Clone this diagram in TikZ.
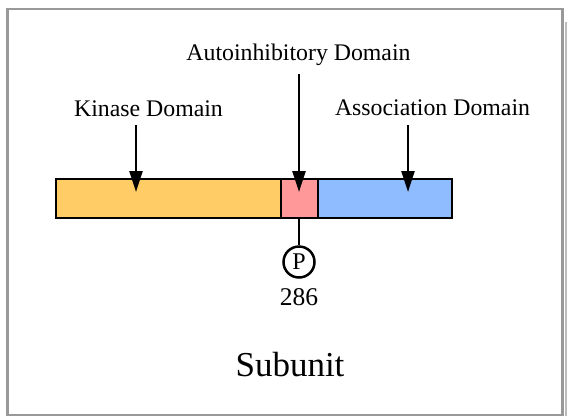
\documentclass[tikz,border=0pt]{standalone}
\usepackage{fontspec}
\setmainfont{Liberation Serif}
\usetikzlibrary{arrows.meta}
\definecolor{framegray}{HTML}{999999}
\definecolor{shadowgray}{HTML}{BBBBBB}
\definecolor{kinasecol}{HTML}{FFCC66}
\definecolor{autocol}{HTML}{FF9999}
\definecolor{assoccol}{HTML}{8FBCFF}
\begin{document}
\begin{tikzpicture}[x=1pt,y=-1pt,
  seg/.style={draw=black,line width=2.5pt,rectangle,minimum height=39pt,inner sep=0pt},
  lbl/.style={font=\fontsize{23.8}{28}\selectfont,inner sep=0pt,anchor=base},
  arr/.style={line width=2.5pt,-{Triangle[length=21pt,width=13pt]}},
  conn/.style={line width=2.5pt}]
\useasboundingbox (0,0) rectangle (567,418);
% shadow and frame
\fill[shadowgray] (564.5,22) rectangle (567,416);
\draw[framegray,line width=2.5pt] (7.5,9) rectangle (562.5,415);
% bar
\node[seg,fill=kinasecol,minimum width=225pt] (kin) at (168.5,198.5) {};
\node[seg,fill=assoccol,minimum width=134pt] (asc) at (385,198.5) {};
\node[seg,fill=autocol,minimum width=37pt] (aut) at (299.5,198.5) {};
% labels
\node[lbl] (klbl) at (148.5,116.7) {Kinase Domain};
\node[lbl] (albl) at (298.5,60) {Autoinhibitory Domain};
\node[lbl] (slbl) at (432.5,115.7) {Association Domain};
% arrows
\coordinate (ks) at (136,125);
\coordinate (kt) at (136,192);
\coordinate (as) at (299,74);
\coordinate (at) at (299,192);
\coordinate (ss) at (408,125);
\coordinate (st) at (408,192);
\draw[arr] (ks) -- (kt);
\draw[arr] (as) -- (at);
\draw[arr] (ss) -- (st);
% phosphorylation site
\node[draw=black,line width=2.5pt,circle,minimum size=31pt,inner sep=0pt,
  font=\fontsize{24}{28}\selectfont] (p) at (299,262) {P};
\draw[conn] (aut.south -| p.north) -- (p.north);
\node[lbl,font=\fontsize{25.5}{30}\selectfont] (num) at (299,305) {286};
\node[font=\fontsize{35}{40}\selectfont,inner sep=0pt,anchor=base] (sub) at (290,376.7) {Subunit};
\end{tikzpicture}
\end{document}
